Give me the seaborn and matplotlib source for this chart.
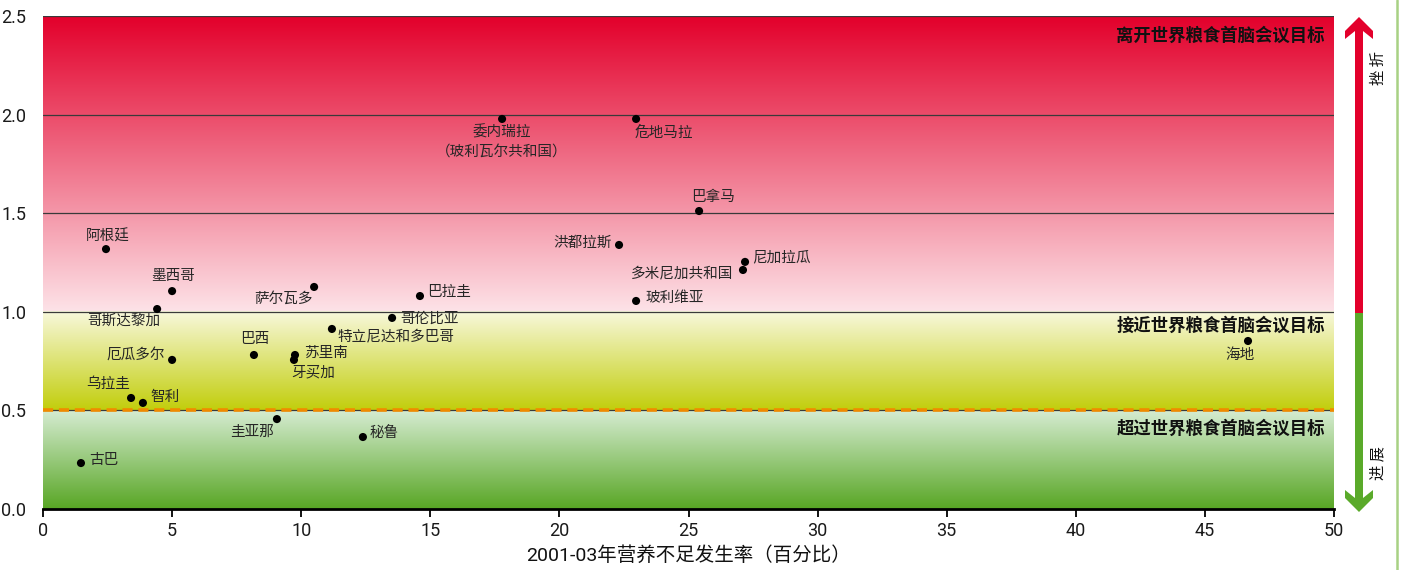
import numpy as np
import pandas as pd
import matplotlib
matplotlib.use("Agg")
import matplotlib.pyplot as plt
from matplotlib import font_manager
from matplotlib.colors import LinearSegmentedColormap
from matplotlib.patches import Polygon
import seaborn as sns

# ---------------- data ----------------
countries = ["古巴", "阿根廷", "墨西哥", "哥斯达黎加", "厄瓜多尔", "乌拉圭", "智利",
             "巴西", "苏里南", "牙买加", "萨尔瓦多", "特立尼达和多巴哥", "哥伦比亚",
             "巴拉圭", "圭亚那", "秘鲁", "委内瑞拉\n（玻利瓦尔共和国）", "危地马拉",
             "巴拿马", "洪都拉斯", "尼加拉瓜", "多米尼加共和国", "玻利维亚", "海地"]
undernourishment = [1.47, 2.44, 5.0, 4.42, 5.0, 3.41, 3.87,
                    8.17, 9.76, 9.72, 10.5, 11.19, 13.52,
                    14.6, 9.06, 12.39, 17.78, 22.97,
                    25.41, 22.31, 27.19, 27.11, 22.97, 46.67]
progress_ratio = [0.233, 1.318, 1.105, 1.014, 0.756, 0.563, 0.538,
                  0.781, 0.781, 0.756, 1.126, 0.913, 0.969,
                  1.08, 0.456, 0.365, 1.978, 1.978,
                  1.511, 1.339, 1.253, 1.212, 1.055, 0.852]
x_ticks = [0, 5, 10, 15, 20, 25, 30, 35, 40, 45, 50]
y_ticks = [0.0, 0.5, 1.0, 1.5, 2.0, 2.5]
band_labels = ["离开世界粮食首脑会议目标", "接近世界粮食首脑会议目标", "超过世界粮食首脑会议目标"]
x_label = "2001-03年营养不足发生率（百分比）"
arrow_up_label = "挫折"
arrow_down_label = "进展"

# label placement (pixel offsets, alignment)
label_pos = {
    "古巴": (8, 3, "left", "center"),
    "阿根廷": (2, 13, "center", "center"),
    "墨西哥": (1, 15, "center", "center"),
    "哥斯达黎加": (3, -12, "right", "center"),
    "厄瓜多尔": (-7, 5, "right", "center"),
    "乌拉圭": (-1, 14, "right", "center"),
    "智利": (7, 6, "left", "center"),
    "巴西": (1, 16, "center", "center"),
    "苏里南": (9, 2, "left", "center"),
    "牙买加": (-3, -13, "left", "center"),
    "萨尔瓦多": (-1, -12, "right", "center"),
    "特立尼达和多巴哥": (6, -7, "left", "center"),
    "哥伦比亚": (8, -1, "left", "center"),
    "巴拉圭": (7, 4, "left", "center"),
    "圭亚那": (-3, -13, "right", "center"),
    "秘鲁": (7, 3, "left", "center"),
    "委内瑞拉\n（玻利瓦尔共和国）": (0, -6, "center", "top"),
    "危地马拉": (-2, -14, "left", "center"),
    "巴拿马": (14, 14, "center", "center"),
    "洪都拉斯": (-7, 2, "right", "center"),
    "尼加拉瓜": (7, 5, "left", "center"),
    "多米尼加共和国": (-10, -3, "right", "center"),
    "玻利维亚": (9, 3, "left", "center"),
    "海地": (-8, -14, "center", "center"),
}

df = pd.DataFrame({"x": undernourishment, "y": progress_ratio, "name": countries})

# ---------------- style ----------------
sns.set_theme(style="white")
available = {f.name for f in font_manager.fontManager.ttflist}
num_font = "Liberation Sans Narrow" if "Liberation Sans Narrow" in available else "Roboto"
cjk = "Noto Sans CJK SC"
plt.rcParams["font.family"] = [cjk, "DejaVu Sans"]

W, H = 1401, 570
fig = plt.figure(figsize=(W / 100, H / 100), dpi=100)
ax_l, ax_r, ax_b, ax_t = 43, 1334, 509, 16
ax = fig.add_axes([ax_l / W, 1 - ax_b / H, (ax_r - ax_l) / W, (ax_b - ax_t) / H])


# ---------------- background gradients ----------------
def band(y0, y1, c_bottom, c_top):
    cmap = LinearSegmentedColormap.from_list("b", [c_bottom, c_top])
    grad = np.linspace(0, 1, 256).reshape(-1, 1)
    ax.imshow(grad, cmap=cmap, aspect="auto", extent=(0, 50, y0, y1),
              origin="lower", zorder=0, interpolation="bicubic")


band(1.0, 2.5, "#fde3e8", "#e3002b")
band(0.5, 1.0, "#c2ce0c", "#f8f8dc")
band(0.0, 0.5, "#58a624", "#d6ecd2")
ax.set_xlim(0, 50)
ax.set_ylim(0, 2.5)

for yv in [1.0, 1.5, 2.0, 2.5]:
    ax.axhline(yv, color="#3a3a3a", lw=0.9, zorder=1)
ax.axhline(0.5, color="#3a3a3a", lw=0.9, zorder=1)
dl = ax.axhline(0.5, color="#f08a00", lw=2.6, zorder=2)
dl.set_dashes((2.8, 1.6))

# ---------------- points ----------------
sns.scatterplot(data=df, x="x", y="y", ax=ax, color="black", s=34,
                edgecolor="none", zorder=5, legend=False)

for name, xv, yv in zip(countries, undernourishment, progress_ratio):
    dx, dy, ha, va = label_pos[name]
    ax.annotate(name, (xv, yv), xytext=(dx * 0.72, dy * 0.72),
                textcoords="offset points", ha=ha, va=va, fontsize=10.5,
                color="#262626", zorder=6, linespacing=1.5)

# band labels
band_y = [2.40, 0.93, 0.405]
for txt, yv in zip(band_labels, band_y):
    ax.text(49.65, yv, txt, ha="right", va="center", fontsize=12.5,
            color="#111111", fontweight="bold", zorder=6)

# ---------------- axes styling ----------------
for s in ["left", "right", "top"]:
    ax.spines[s].set_visible(False)
ax.spines["bottom"].set_color("black")
ax.spines["bottom"].set_linewidth(2.0)
ax.spines["bottom"].set_zorder(7)
ax.set_xticks(x_ticks)
ax.set_yticks(y_ticks)
ax.set_xticklabels([str(v) for v in x_ticks], fontfamily=num_font, fontsize=13)
ax.set_yticklabels([f"{v:.1f}" for v in y_ticks], fontfamily=num_font, fontsize=13)
ax.tick_params(axis="x", bottom=True, length=6, width=1.3, color="black",
               pad=3, labelcolor="#1a1a1a")
ax.tick_params(axis="y", left=False, pad=6, labelcolor="#1a1a1a")
ax.set_xlabel(x_label, fontsize=14, color="#111111", labelpad=5,
              fontfamily=[num_font, cjk])
ax.set_ylabel("")
ax.grid(False)


# ---------------- right arrow (figure pixel coordinates) ----------------
def to_fig(pts):
    return [(px / W, 1 - py / H) for px, py in pts]


cx, tip_top, tip_bot, split_px = 1359, 17, 512, 313
sw, hw, hl, ht = 4, 14, 14, 8   # half shaft, half head, head slope, head thickness
up_pts = [(cx, tip_top), (cx + hw, tip_top + hl), (cx + hw, tip_top + hl + ht),
          (cx + sw, tip_top + ht + sw + 2), (cx + sw, split_px),
          (cx - sw, split_px), (cx - sw, tip_top + ht + sw + 2),
          (cx - hw, tip_top + hl + ht), (cx - hw, tip_top + hl)]
dn_pts = [(px, tip_top + tip_bot - py) for px, py in up_pts]
dn_pts = [(px, split_px if py == tip_top + tip_bot - split_px else py) for px, py in dn_pts]
fig.add_artist(Polygon(to_fig(up_pts), closed=True, facecolor="#e3002b",
                       edgecolor="none", transform=fig.transFigure))
fig.add_artist(Polygon(to_fig(dn_pts), closed=True, facecolor="#5aaa2a",
                       edgecolor="none", transform=fig.transFigure))
fig.text(1378 / W, 1 - 68 / H, " ".join(arrow_up_label), rotation=90, ha="center",
         va="center", fontsize=11, color="#111111")
fig.text(1378 / W, 1 - 463 / H, " ".join(arrow_down_label), rotation=90, ha="center",
         va="center", fontsize=11, color="#111111")

# right green rule
fig.add_artist(plt.Line2D([1397 / W, 1397 / W], [0, 1], color="#a8d184",
                          lw=1.8, transform=fig.transFigure))

fig.savefig("out.png", dpi=100)
